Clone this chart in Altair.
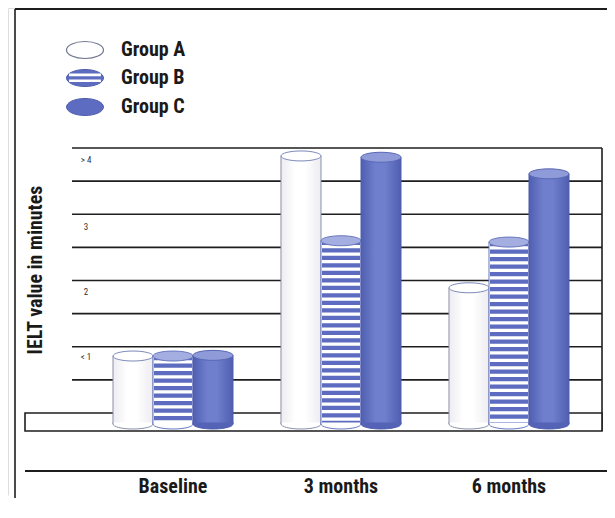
import altair as alt
import pandas as pd

# ---------------- data ----------------
periods = ["Baseline", "3 months", "6 months"]
groups = ["Group A", "Group B", "Group C"]
group_a = [0.86, 3.88, 1.89]
group_b = [0.86, 2.60, 2.58]
group_c = [0.87, 3.86, 3.61]
grid_values = [0.5, 1.0, 1.5, 2.0, 2.5, 3.0, 3.5, 4.0]
tick_labels = ["< 1", "2", "3", "> 4"]
tick_values = [0.85, 1.83, 2.81, 3.82]
y_title = "IELT value in minutes"

# ---------------- layout constants ----------------
BASE = -0.166          # level of cylinder bottoms
FLOOR_TOP = 0.0
FLOOR_BOTTOM = -0.272
W, H = 599, 490
FONT = "Liberation Sans Narrow, Roboto Condensed, DejaVu Sans Condensed, Arial Narrow, sans-serif"

rows = []
for g, vals in zip(groups, [group_a, group_b, group_c]):
    for p, v in zip(periods, vals):
        rows.append({"period": p, "group": g, "value": v, "base": BASE})
df = pd.DataFrame(rows)
grid_df = pd.DataFrame({"v": grid_values})
tick_df = pd.DataFrame({"label": tick_labels, "v": tick_values})
frame_df = pd.DataFrame({"top": [4.0], "floor_top": [FLOOR_TOP], "floor_bottom": [FLOOR_BOTTOM]})
period_df = pd.DataFrame({"period": periods})

# y pixel = 405 - 66.25 * v  (view coordinates)
Y = alt.Scale(domain=[(405 - H) / 66.25, 405 / 66.25], nice=False, zero=False)
X = alt.Scale(domain=periods, range=[81, 585], paddingInner=0.2857, paddingOuter=0.14286)
XO = alt.Scale(domain=groups, paddingInner=0, paddingOuter=0)

BW = 40
ELL = "M-1,0 A1,0.25 0 1,0 1,0 A1,0.25 0 1,0 -1,0 Z"
HALF = "M-1,-0.08 L-1,0 A1,0.25 0 0,0 1,0 L1,-0.08"
LEG_ELL = "M-1,0 A1,0.46 0 1,0 1,0 A1,0.46 0 1,0 -1,0 Z"
LEG_STRIPES = "M-0.86,-0.24 L0.86,-0.24 L0.86,-0.1 L-0.86,-0.1 Z M-0.86,0.08 L0.86,0.08 L0.86,0.22 L-0.86,0.22 Z"

LINE = "#1e1e1e"
BLUE = "#5d6cc0"

xenc = alt.X("period:N", scale=X, axis=None)
xoenc = alt.XOffset("group:N", scale=XO)


def grad(c_edge, c_mid):
    return alt.LinearGradient(
        gradient="linear", x1=0, x2=1, y1=0, y2=0,
        stops=[alt.GradientStop(color=c_edge, offset=0),
               alt.GradientStop(color=c_mid, offset=0.35),
               alt.GradientStop(color=c_mid, offset=0.6),
               alt.GradientStop(color=c_edge, offset=1)])


def cylinder(group, body_fill, edge, bottom_fill, top_fill, top_edge, stripes=False):
    base = alt.Chart(df).transform_filter(alt.datum.group == group)
    body = base.mark_bar(fill=body_fill, stroke=edge, strokeWidth=1).encode(
        x=xenc, xOffset=xoenc,
        y=alt.Y("value:Q", scale=Y, axis=None), y2="base:Q")
    layers = [body]
    if stripes:
        layers.append(base.mark_rule(color=BLUE, strokeWidth=BW - 2, strokeDash=[4.2, 3.3]).encode(
            x=xenc, xOffset=xoenc,
            y=alt.Y("value:Q", scale=Y, axis=None), y2="base:Q"))
    layers.append(base.mark_point(shape=HALF, size=BW * BW, filled=True, fill=bottom_fill,
                                  stroke=edge, strokeWidth=1, opacity=1).encode(
        x=xenc, xOffset=xoenc, y=alt.Y("base:Q", scale=Y, axis=None)))
    layers.append(base.mark_point(shape=ELL, size=BW * BW, filled=True, fill=top_fill,
                                  stroke=top_edge, strokeWidth=1, opacity=1).encode(
        x=xenc, xOffset=xoenc, y=alt.Y("value:Q", scale=Y, axis=None)))
    return layers


# ---------------- frame ----------------
# white covers along the right and bottom edges of the view
cover_r = alt.Chart(frame_df).mark_rule(color="white", strokeWidth=3).encode(
    x=alt.value(W - 1), y=alt.value(0), y2=alt.value(H))
cover_b = alt.Chart(frame_df).mark_rule(color="white", strokeWidth=3).encode(
    x=alt.value(0), x2=alt.value(W), y=alt.value(H - 1))
top_border = alt.Chart(frame_df).mark_rule(color=LINE, strokeWidth=1.8).encode(
    x=alt.value(7), x2=alt.value(W), y=alt.value(1))
left_border = alt.Chart(frame_df).mark_rule(color=LINE, strokeWidth=1.6).encode(
    x=alt.value(7), y=alt.value(1), y2=alt.value(H))
bottom_line = alt.Chart(frame_df).mark_rule(color=LINE, strokeWidth=1.8).encode(
    x=alt.value(17), x2=alt.value(W), y=alt.value(463))

grid = alt.Chart(grid_df).mark_rule(color=LINE, strokeWidth=1.6).encode(
    y=alt.Y("v:Q", scale=Y, axis=None), x=alt.value(64), x2=alt.value(594))
right_edge = alt.Chart(frame_df).mark_rule(color=LINE, strokeWidth=1.6).encode(
    x=alt.value(594), y=alt.Y("top:Q", scale=Y, axis=None), y2="floor_bottom:Q")
floor = alt.Chart(frame_df).mark_rect(fill="white", stroke=LINE, strokeWidth=1.6).encode(
    x=alt.value(17), x2=alt.value(594),
    y=alt.Y("floor_top:Q", scale=Y, axis=None), y2="floor_bottom:Q")

ticks = alt.Chart(tick_df).mark_text(font=FONT, fontSize=9, color="#333333", align="center",
                                     baseline="middle").encode(
    x=alt.value(78), y=alt.Y("v:Q", scale=Y, axis=None), text="label:N")

xlabels = alt.Chart(period_df).mark_text(font=FONT, fontSize=20, fontWeight="bold", color="#1a1a1a",
                                         baseline="middle", align="center").encode(
    x=xenc, y=alt.value(479), text="period:N")

ytitle = alt.Chart(frame_df).mark_text(text=y_title, font=FONT, fontSize=20, fontWeight="bold",
                                       color="#1a1a1a", angle=270, align="center",
                                       baseline="middle").encode(
    x=alt.value(28), y=alt.value(262))

# ---------------- cylinders ----------------
cyl = []
cyl += cylinder("Group A", grad("#ececf2", "#ffffff"), "#8a90a8", "#ffffff", "#ffffff", "#7d88b8")
cyl += cylinder("Group B", "#ffffff", "#6a78c0", "#ffffff", "#a4aee0", "#6a78c0", stripes=True)
cyl += cylinder("Group C", grad("#4f5eb0", "#6f7fcd"), "#4f5eae", "#5463b5", "#8f9bd8", "#5a68b5")

# ---------------- legend ----------------
leg_x = 77
leg_y = [42, 70, 99]
leg = []
leg.append(alt.Chart(frame_df).mark_point(shape=LEG_ELL, size=37 * 37, filled=True, fill="#ffffff",
                                          stroke="#6f7690", strokeWidth=1.2, opacity=1).encode(
    x=alt.value(leg_x), y=alt.value(leg_y[0])))
leg.append(alt.Chart(frame_df).mark_point(shape=LEG_ELL, size=37 * 37, filled=True, fill=BLUE,
                                          stroke="#4f5eae", strokeWidth=1, opacity=1).encode(
    x=alt.value(leg_x), y=alt.value(leg_y[1])))
leg.append(alt.Chart(frame_df).mark_point(shape=LEG_STRIPES, size=37 * 37, filled=True, fill="#ffffff",
                                          strokeWidth=0, opacity=1).encode(
    x=alt.value(leg_x), y=alt.value(leg_y[1])))
leg.append(alt.Chart(frame_df).mark_point(shape=LEG_ELL, size=37 * 37, filled=True, fill=BLUE,
                                          stroke="#4f5eae", strokeWidth=1, opacity=1).encode(
    x=alt.value(leg_x), y=alt.value(leg_y[2])))
for g, yy in zip(groups, leg_y):
    leg.append(alt.Chart(frame_df).mark_text(text=g, font=FONT, fontSize=20, fontWeight="bold",
                                             color="#1a1a1a", align="left", baseline="middle").encode(
        x=alt.value(113), y=alt.value(yy)))

chart = alt.layer(
    cover_r, cover_b, top_border, left_border, bottom_line, grid, right_edge, floor, ticks,
    *cyl, *leg, xlabels, ytitle
).properties(
    width=W, height=H, padding=0, autosize=alt.AutoSizeParams(type="none")
).configure_view(stroke="transparent", strokeWidth=0).configure(background="white")

chart.save("out.html", embed_options={"renderer": "svg", "actions": False})
